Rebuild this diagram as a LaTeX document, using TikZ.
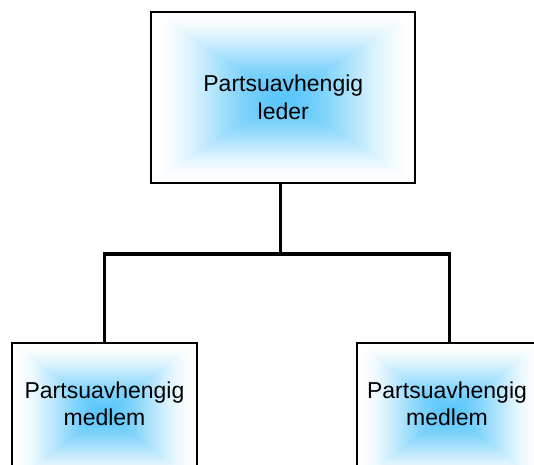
\documentclass[tikz,border=0pt]{standalone}
\usepackage{fontspec}
\setmainfont{Liberation Sans}
\usetikzlibrary{calc}
\definecolor{cblue}{RGB}{90,198,250}
\begin{document}
\begin{tikzpicture}[x=1pt, y=-1pt,
  % rectangular glow: nested rectangles from white at the frame to blue in the middle
  gradbox/.style={draw=black, line width=2pt, rectangle, inner sep=0pt,
    path picture={
      \path (path picture bounding box.center) coordinate (pc)
            (path picture bounding box.north west) coordinate (pnw)
            (path picture bounding box.south east) coordinate (pse);
      \foreach \i in {80,...,1} {
        \pgfmathsetmacro\t{\i/80}
        \pgfmathsetmacro\p{100*(1-\t^1.8)^2}
        \fill[cblue!\p!white] ($(pc)!\t!(pnw)$) rectangle ($(pc)!\t!(pse)$);
      }
    }},
  lbl/.style={align=center, font=\fontsize{23}{27.5}\selectfont, text=black, inner sep=0pt},
  link/.style={draw=black, line width=3.5pt}]
\useasboundingbox (0,0) rectangle (534,464);
\fill[white] (0,0) rectangle (534,464);
\clip (0,0) rectangle (534,464);

% boxes
\node[gradbox, lbl, minimum width=264pt, minimum height=170.7pt] (lead) at (283.3,97.3) {Partsuavhengig\\leder};
\node[gradbox, minimum width=185pt, minimum height=140pt] (mleft) at (104.5,413) {};
\node[gradbox, minimum width=185pt, minimum height=140pt] (mright) at (449.5,413) {};
\node[lbl] (tleft) at (104.5,403.7) {Partsuavhengig\\medlem};
\node[lbl] (tright) at (447,403.7) {Partsuavhengig\\medlem};

% connectors
\coordinate (fork) at (280.7,254);
\draw[link] (lead.south -| fork) -- (fork);
\draw[link] (mleft.north) -- (mleft.north |- fork) -- (mright.north |- fork) -- (mright.north);
\end{tikzpicture}
\end{document}
